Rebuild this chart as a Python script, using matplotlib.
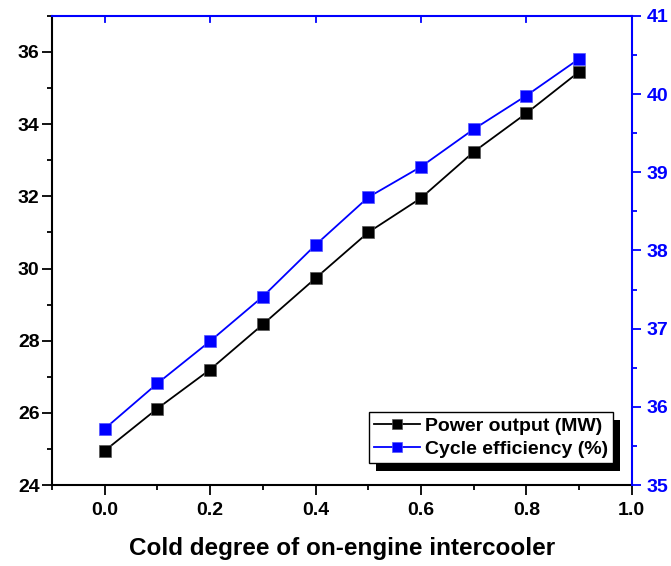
import matplotlib
matplotlib.use("Agg")
import matplotlib.pyplot as plt
from matplotlib.ticker import MultipleLocator
from matplotlib.patches import Rectangle

plt.rcParams['font.family'] = ['Liberation Sans', 'DejaVu Sans']
plt.rcParams['font.weight'] = 'bold'

# data
cold_degree = [0.0, 0.1, 0.2, 0.3, 0.4, 0.5, 0.6, 0.7, 0.8, 0.9]
power_mw = [24.95, 26.12, 27.2, 28.45, 29.73, 31.0, 31.95, 33.23, 34.3, 35.45]
efficiency_pct = [35.72, 36.3, 36.84, 37.41, 38.07, 38.68, 39.07, 39.55, 39.98, 40.45]

fig = plt.figure(figsize=(6.71, 5.66), dpi=100)
ax = fig.add_axes([0.0775, 0.143, 0.864, 0.829])
ax2 = ax.twinx()

l1, = ax.plot(cold_degree, power_mw, color='black', marker='s', markersize=8.5,
              mec='#555555', mew=0.5, lw=1.3, label='Power output (MW)')
l2, = ax2.plot(cold_degree, efficiency_pct, color='blue', marker='s', markersize=8.5,
               mec='#5555ff', mew=0.5, lw=1.3, label='Cycle efficiency (%)')

ax.set_xlim(-0.1, 1.0)
ax.set_ylim(24, 37)
ax2.set_ylim(35, 41)

ax.xaxis.set_major_locator(MultipleLocator(0.2))
ax.xaxis.set_minor_locator(MultipleLocator(0.1))
ax.yaxis.set_major_locator(MultipleLocator(2))
ax.yaxis.set_minor_locator(MultipleLocator(1))
ax2.yaxis.set_major_locator(MultipleLocator(1))
ax2.yaxis.set_minor_locator(MultipleLocator(0.5))
ax.xaxis.set_major_formatter(plt.FormatStrFormatter('%.1f'))

ax.tick_params(axis='both', which='major', direction='out', length=7, width=1.3,
               labelsize=14, colors='black')
ax.tick_params(axis='both', which='minor', direction='out', length=3.5, width=1.3)
ax.tick_params(axis='x', which='major', pad=5)
ax.tick_params(axis='y', which='major', pad=2)
ax.tick_params(axis='x', top=False)
ax2.tick_params(axis='y', which='major', direction='out', length=6.5, width=1.3,
                labelsize=14, colors='blue', pad=4)
ax2.tick_params(axis='y', which='minor', direction='out', length=3.5, width=1.3, colors='blue')

for lab in ax.get_xticklabels() + ax.get_yticklabels() + ax2.get_yticklabels():
    lab.set_fontweight('bold')

for s in ['left', 'bottom']:
    ax.spines[s].set_linewidth(1.5)
ax.spines['top'].set_visible(False)
ax.spines['right'].set_visible(False)
ax2.spines['left'].set_visible(False)
ax2.spines['bottom'].set_visible(False)
ax2.spines['right'].set_color('blue')
ax2.spines['top'].set_color('blue')
ax2.spines['right'].set_linewidth(1.5)
ax2.spines['top'].set_linewidth(1.5)

# small inward ticks along the blue top edge
for xv in [0.0, 0.2, 0.4, 0.6, 0.8]:
    ax2.plot([xv, xv], [41, 40.92], color='blue', lw=1.3, clip_on=False)

ax.set_xlabel('Cold degree of on-engine intercooler', fontsize=17.5, fontweight='bold',
              labelpad=13)

leg = ax2.legend(handles=[l1, l2], loc='lower right', bbox_to_anchor=(0.968, 0.047),
                 fontsize=14, frameon=True, fancybox=False, edgecolor='black',
                 framealpha=1, borderpad=0.25, handlelength=2.4, handletextpad=0.25,
                 labelspacing=0.3, borderaxespad=0, markerscale=0.9)
leg.get_frame().set_linewidth(1.0)
leg.set_zorder(10)
for t in leg.get_texts():
    t.set_fontweight('bold')

# hard black drop shadow behind the legend box
fig.canvas.draw()
bb = leg.get_frame().get_window_extent()
shadow = Rectangle((bb.x0 + 7, bb.y0 - 8), bb.width, bb.height, transform=None,
                   facecolor='black', edgecolor='none', zorder=9)
ax2.add_artist(shadow)

fig.savefig('out.png', dpi=100)
